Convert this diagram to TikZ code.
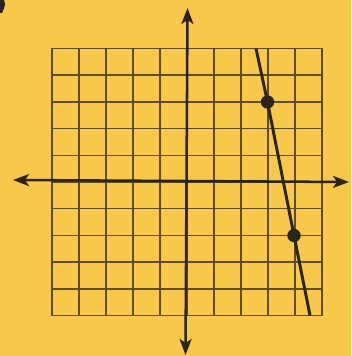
\documentclass[tikz,border=0pt]{standalone}
\usetikzlibrary{arrows.meta}
\definecolor{bg}{HTML}{F7C84A}
\definecolor{gridc}{HTML}{5E4C22}
\definecolor{ink}{HTML}{2A241A}
\begin{document}
\begin{tikzpicture}[x=0.75pt,y=-0.75pt,
  gridline/.style={draw=gridc,line width=1.15pt},
  axis/.style={draw=ink,line width=1.9pt,{Stealth[length=12pt,width=9pt,inset=3pt]}-{Stealth[length=12pt,width=9pt,inset=3pt]}},
  graphline/.style={draw=ink,line width=2.2pt},
  pt/.style={circle,fill=ink,inner sep=0pt,minimum size=10pt}]
\fill[bg] (0,0) rectangle (351,356);
\useasboundingbox (0,0) rectangle (351,356);
% fragment of a label at the top-left corner
\fill[ink] (0,0) -- (4,0) .. controls (5.5,5) .. (2,13) -- (0,13) -- cycle;
% grid
\foreach \i in {0,...,10} {
  \draw[gridline] ({52+27*\i},48.5) -- ({52+27*\i},315.5);
  \draw[gridline] (52,{48.5+26.7*\i}) -- (322,{48.5+26.7*\i});
}
% axes
\coordinate (ytop) at (187.5,8);
\coordinate (ybot) at (185.5,355);
\coordinate (xleft) at (13,180);
\coordinate (xright) at (349,182);
\draw[axis] (ybot) -- (ytop);
\draw[axis] (xleft) -- (xright);
% line y = -5x + 18 through (3,3) and (4,-2)
\coordinate (ltop) at (256,48.5);
\coordinate (lbot) at (310,315.5);
\node[pt] (p1) at (267.5,102) {};
\node[pt] (p2) at (294,235.5) {};
\draw[graphline] (ltop) -- (p1.center) -- (p2.center) -- (lbot);
\end{tikzpicture}
\end{document}
